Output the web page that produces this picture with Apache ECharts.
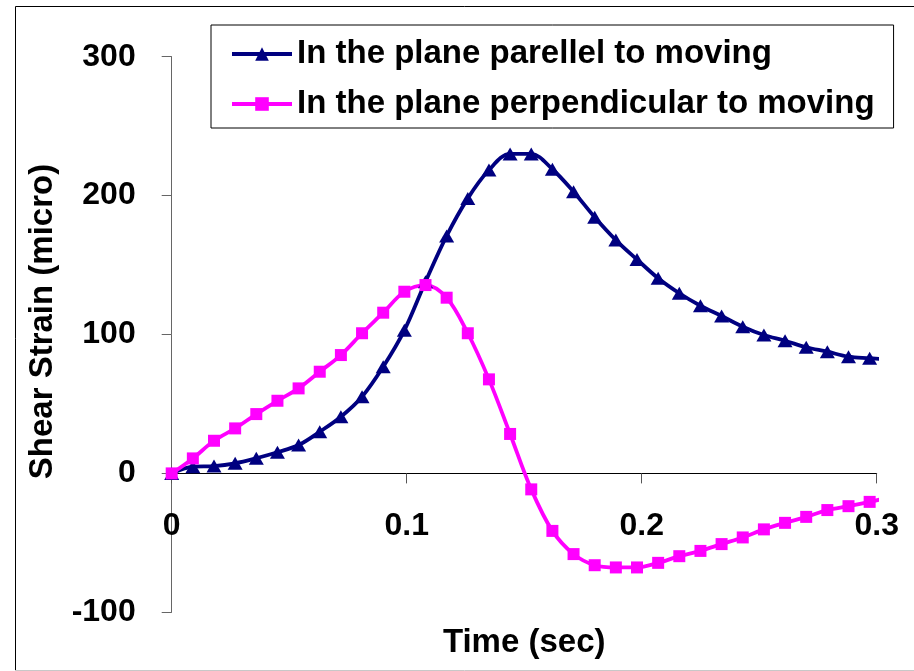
<!DOCTYPE html>
<html>
<head>
<meta charset="utf-8">
<script src="https://cdn.jsdelivr.net/npm/echarts@6/dist/echarts.min.js"></script>
<style>
  html, body { margin: 0; padding: 0; background: #fff; }
  #chart { width: 914px; height: 671px; }
</style>
</head>
<body>
<div id="chart"></div>
<script>
// Sample times (sec)
const times = [0, 0.009, 0.018, 0.027, 0.036, 0.045, 0.054, 0.063, 0.072, 0.081,
  0.09, 0.099, 0.108, 0.117, 0.126, 0.135, 0.144, 0.153, 0.162, 0.171,
  0.18, 0.189, 0.198, 0.207, 0.216, 0.225, 0.234, 0.243, 0.252, 0.261,
  0.27, 0.279, 0.288, 0.297, 0.3035];

// Shear strain (micro) in the plane parallel to moving
const parallelStrain = [0, 4.8, 5.3, 7.3, 10.9, 15.2, 20.4, 30.0, 40.8, 55.2,
  76.8, 103, 138, 171, 198, 218.4, 230, 230, 219, 202.8,
  184.4, 168, 154, 140.5, 129.7, 120.7, 113.3, 105.6, 99.6, 95.5,
  90.8, 87.6, 84, 82.9, 82.1];

// Shear strain (micro) in the plane perpendicular to moving
const perpendicularStrain = [0, 10.8, 23.5, 32.4, 42.7, 52.3, 61.2, 73.2, 85.2, 100.9,
  115.7, 130.8, 135.6, 126.5, 100.9, 67.7, 28.4, -11.5, -41.4, -58.1,
  -66.1, -67.7, -67.7, -64.4, -59.6, -55.8, -50.9, -46.1, -40.3, -35.6,
  -31.3, -26.4, -23.6, -20.5, -18];

const seriesNames = ['In the plane parellel to moving', 'In the plane perpendicular to moving'];
const xTicks = [0, 0.1, 0.2, 0.3];
const yTicks = [-100, 0, 100, 200, 300];

const FONT = '"Liberation Sans", Arial, sans-serif';

// the last sample only continues the curve past the final tick, without a marker
function toPoints(values) {
  return values.map((v, i) => i === values.length - 1
    ? { value: [times[i], v], symbol: 'none' }
    : [times[i], v]);
}

const chart = echarts.init(document.getElementById('chart'), null, { renderer: 'canvas' });

chart.setOption({
  backgroundColor: '#ffffff',
  animation: false,
  graphic: [
    { type: 'line', shape: { x1: 15.5, y1: 6.5, x2: 914, y2: 6.5 }, style: { stroke: '#000', lineWidth: 1 } },
    { type: 'line', shape: { x1: 15.5, y1: 6.5, x2: 15.5, y2: 670 }, style: { stroke: '#000', lineWidth: 1 } },
    { type: 'line', shape: { x1: 15, y1: 670.5, x2: 914, y2: 670.5 }, style: { stroke: '#c8c8c8', lineWidth: 1 } }
  ],
  grid: { left: 171.7, right: 37.3, top: 56.7, bottom: 58.7, containLabel: false, outerBoundsMode: 'none' },
  legend: {
    orient: 'vertical',
    left: 211,
    top: 25,
    padding: [11, 19, 6, 19],
    itemGap: 14,
    itemWidth: 60,
    itemHeight: 17,
    backgroundColor: '#fff',
    borderColor: '#000',
    borderWidth: 1,
    borderRadius: 0,
    lineStyle: { width: 4 },
    textStyle: { fontFamily: FONT, fontWeight: 'bold', fontSize: 33, color: '#000', lineHeight: 36 },
    data: seriesNames
  },
  xAxis: {
    type: 'value',
    min: xTicks[0],
    max: xTicks[xTicks.length - 1],
    interval: 0.1,
    name: 'Time (sec)',
    nameLocation: 'middle',
    nameGap: 153,
    nameTextStyle: { fontFamily: FONT, fontWeight: 'bold', fontSize: 33, color: '#000' },
    axisLine: { onZero: true, lineStyle: { color: '#000', width: 1 } },
    axisTick: { show: true, inside: false, length: 10, lineStyle: { color: '#555' } },
    axisLabel: { margin: 37, fontFamily: FONT, fontWeight: 'bold', fontSize: 32, color: '#000' },
    splitLine: { show: false }
  },
  yAxis: {
    type: 'value',
    min: yTicks[0],
    max: yTicks[yTicks.length - 1],
    interval: 100,
    name: 'Shear Strain (micro)',
    nameLocation: 'middle',
    nameGap: 112,
    nameRotate: 90,
    nameTextStyle: { fontFamily: FONT, fontWeight: 'bold', fontSize: 33, color: '#000', padding: [0, 0, 0, 26] },
    axisLine: { show: true, lineStyle: { color: '#666', width: 1 } },
    axisTick: { show: true, inside: false, length: 10, lineStyle: { color: '#666' } },
    axisLabel: { margin: 36, fontFamily: FONT, fontWeight: 'bold', fontSize: 32, color: '#000' },
    splitLine: { show: false }
  },
  series: [
    {
      name: seriesNames[0],
      type: 'line',
      data: toPoints(parallelStrain),
      smooth: 0.35,
      clip: false,
      symbol: 'triangle',
      symbolSize: [15, 13],
      color: '#000080',
      lineStyle: { color: '#000080', width: 3.8 },
      itemStyle: { color: '#000080' }
    },
    {
      name: seriesNames[1],
      type: 'line',
      data: toPoints(perpendicularStrain),
      smooth: 0.35,
      clip: false,
      symbol: 'rect',
      symbolSize: 12,
      color: '#ff00ff',
      lineStyle: { color: '#ff00ff', width: 3.8 },
      itemStyle: { color: '#ff00ff' }
    }
  ]
});

// Tick labels and the axis title sit next to the zero line rather than the grid's bottom edge
const zeroY = chart.convertToPixel({ yAxisIndex: 0 }, 0);
const bottomY = chart.convertToPixel({ yAxisIndex: 0 }, yTicks[0]);
chart.setOption({ xAxis: { offset: zeroY - bottomY } });
</script>
</body>
</html>
